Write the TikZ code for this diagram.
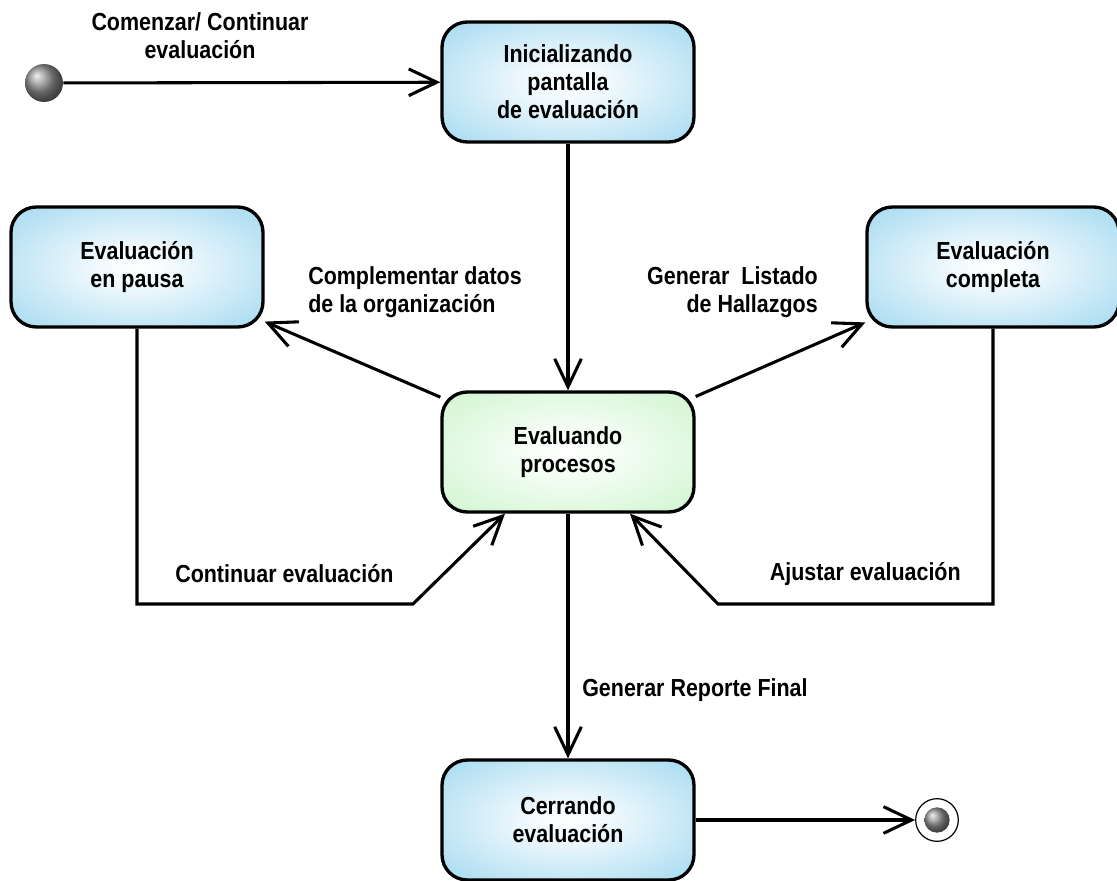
\documentclass[tikz,border=0pt]{standalone}
\usepackage{fontspec}
\setmainfont{Liberation Sans}[FakeStretch=0.87]
\usetikzlibrary{arrows.meta,calc,shadings}

\definecolor{stateblue}{RGB}{136,206,236}
\definecolor{stategreen}{RGB}{192,242,192}

\pgfdeclareradialshading{bluestate}{\pgfpoint{0bp}{0bp}}{%
  color(0bp)=(white); color(8bp)=(white!88!stateblue); color(46bp)=(stateblue); color(50bp)=(stateblue)}
\pgfdeclareradialshading{greenstate}{\pgfpoint{0bp}{0bp}}{%
  color(0bp)=(white); color(8bp)=(white!88!stategreen); color(46bp)=(stategreen); color(50bp)=(stategreen)}

\begin{document}
\begin{tikzpicture}[x=0.75pt,y=-0.75pt,
  every node/.style={font=\fontsize{18.5}{21}\selectfont\bfseries},
  state/.style={draw=black, line width=2.5pt, rounded corners=19pt,
    minimum width=189pt, minimum height=90pt, align=center, inner sep=0pt},
  bluestatebox/.style={state, shading=bluestate},
  greenstatebox/.style={state, shading=greenstate},
  trans/.style={draw=black, line width=2.3pt, -{Straight Barb[length=21pt,width=20pt,line width=2.3pt]}},
  lbl/.style={inner sep=0pt}
]
\useasboundingbox (0,0) rectangle (1117,881);

% states
\node[bluestatebox] (init)  at (568,82)  {Inicializando\\pantalla\\de evaluaci\'on};
\node[bluestatebox] (pausa) at (137,267) {Evaluaci\'on\\en pausa};
\node[bluestatebox] (compl) at (993,267) {Evaluaci\'on\\completa};
\node[greenstatebox] (eval) at (568,452) {Evaluando\\procesos};
\node[bluestatebox] (cierre) at (568,820) {Cerrando\\evaluaci\'on};

% pseudo states
\node[circle, inner sep=0pt, minimum size=28.5pt, ball color=gray!85, shading=ball] (start) at (44,83) {};
\node[circle, draw=black, line width=0.9pt, fill=white, inner sep=0pt, minimum size=32pt] (final) at (937,820) {};
\node[circle, inner sep=0pt, minimum size=19pt, ball color=gray!85, shading=ball] (finalin) at (937,820) {};

% bend points of the return paths
\coordinate (pbend) at (413,604);
\coordinate (cbend) at (718,604);
\coordinate (ptip) at ($(eval.south)+(-63,0)$);
\coordinate (ctip) at ($(eval.south)+(62,0)$);

% transitions
\draw[trans] (start) -- (init);
\draw[trans] (init) -- (eval);
\draw[trans] (eval) -- (pausa);
\draw[trans] (eval) -- (compl);
\draw[trans] (pausa.south) |- (pbend) -- (ptip);
\draw[trans] (compl.south) |- (cbend) -- (ctip);
\draw[trans] (eval) -- (cierre);
\draw[trans] (cierre.east) -- (final);

% transition labels
\node[lbl, align=center] (l1) at (200,36) {Comenzar/ Continuar\\evaluaci\'on};
\node[lbl, align=left, anchor=west] (l2) at (308,292) {Complementar datos\\de la organizaci\'on};
\node[lbl, align=right, anchor=east] (l3) at (818,292) {Generar\ \ Listado\\de Hallazgos};
\node[lbl, anchor=west] (l4) at (175,574) {Continuar evaluaci\'on};
\node[lbl, anchor=east] (l5) at (961,574) {Ajustar evaluaci\'on};
\node[lbl, anchor=west] (l6) at (582,690) {Generar Reporte Final};
\end{tikzpicture}
\end{document}
